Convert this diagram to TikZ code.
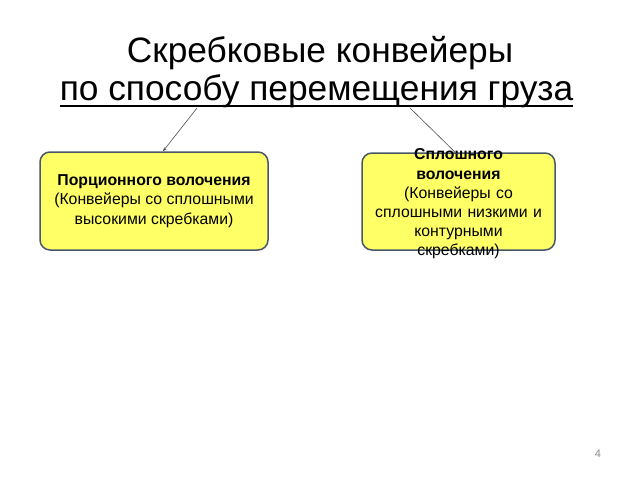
\documentclass[tikz,border=0pt]{standalone}
\usepackage{fontspec}
\setmainfont{Liberation Sans}
\usetikzlibrary{arrows.meta}
\definecolor{boxfill}{RGB}{255,255,102}
\definecolor{boxline}{RGB}{72,88,104}
\tikzset{
  catbox/.style={draw=boxline, line width=1.5pt, fill=boxfill, rounded corners=10pt, align=center, font=\fontsize{15.8}{19.5}\selectfont, inner sep=0pt},
  link/.style={draw=black!70, line width=0.6pt},
  titletext/.style={font=\fontsize{35.3}{40}\selectfont, inner sep=0pt, anchor=base}
}
\begin{document}
\begin{tikzpicture}[x=1pt,y=-1pt]
\useasboundingbox (0,0) rectangle (640,480);
\node[titletext] (t1) at (320,62) {Скребковые конвейеры};
\node[titletext] (t2) at (316.5,100) {по способу перемещения груза};
\draw[line width=2pt] ([yshift=-6pt]t2.base west) -- ([yshift=-6pt]t2.base east);
\node[catbox, minimum width=228, minimum height=98] (left) at (154,201) {\textbf{Порционного волочения}\\(Конвейеры со сплошными\\высокими скребками)};
\node[catbox, minimum width=193, minimum height=97] (right) at (458.5,201.5) {};
\node[align=center, font=\fontsize{15.8}{19.2}\selectfont, text width=180, inner sep=0pt] (rtext) at (458.5,204) {\textbf{Сплошного}\\\textbf{волочения}\\(Конвейеры со\\сплошными низкими и\\контурными\\скребками)};
\coordinate (ls) at (197,108);
\coordinate (rs) at (410,108);
\coordinate (re) at (458,155);
\draw[link, -{Stealth[length=4pt,width=3pt]}] (ls) -- (left.north -| 163,0);
\draw[link] (rs) -- (re);
\node[text=black!45, font=\fontsize{11}{13}\selectfont] (pg) at (598,454) {4};
\end{tikzpicture}
\end{document}
